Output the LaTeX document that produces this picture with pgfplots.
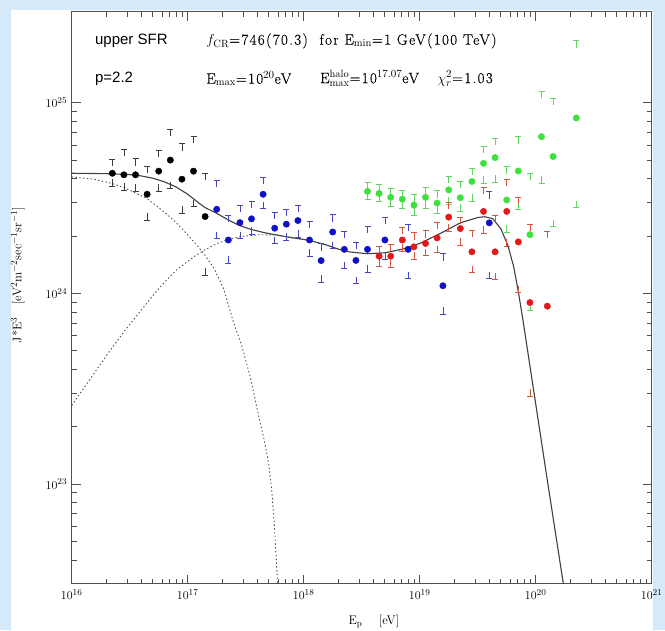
\documentclass[border=0pt]{standalone}
\usepackage{pgfplots}
\usepackage{pgfplotstable}
\pgfplotsset{compat=1.18}
\usepackage{fontspec}
\newfontfamily\helv{Liberation Sans}
\newfontfamily\smfont[LetterSpace=9,FakeBold=0.3]{Latin Modern Roman}
\definecolor{bgblue}{RGB}{212,234,250}
\definecolor{dblue}{RGB}{15,15,200}
\definecolor{dred}{RGB}{225,25,25}
\definecolor{dgreen}{RGB}{60,225,60}
\definecolor{cblack}{RGB}{60,60,60}
\definecolor{cblue}{RGB}{70,70,195}
\definecolor{cred}{RGB}{210,85,65}
\definecolor{cgreen}{RGB}{95,215,95}
\definecolor{framec}{RGB}{80,80,80}

\pgfdeclareplotmark{capup}{%
  \pgfpathmoveto{\pgfqpoint{-3pt}{0pt}}\pgfpathlineto{\pgfqpoint{3pt}{0pt}}%
  \pgfpathmoveto{\pgfqpoint{0pt}{0pt}}\pgfpathlineto{\pgfqpoint{0pt}{-7pt}}%
  \pgfusepathqstroke}
\pgfdeclareplotmark{capdn}{%
  \pgfpathmoveto{\pgfqpoint{-3pt}{0pt}}\pgfpathlineto{\pgfqpoint{3pt}{0pt}}%
  \pgfpathmoveto{\pgfqpoint{0pt}{0pt}}\pgfpathlineto{\pgfqpoint{0pt}{7pt}}%
  \pgfusepathqstroke}

% columns: log10(E), log10(J E^3), log10(upper), log10(lower)
\pgfplotstableread{
lx ly hi lo
16.35 24.630 24.704 24.562
16.45 24.622 24.755 24.541
16.55 24.622 24.706 24.536
16.65 24.520 24.667 24.384
16.75 24.641 24.751 24.536
16.85 24.699 24.862 24.550
16.95 24.599 24.786 24.419
17.05 24.641 24.825 24.454
17.15 24.403 24.629 24.095
}\tblack
\pgfplotstableread{
lx ly hi lo
17.25 24.441 24.594 24.287
17.35 24.280 24.410 24.159
17.45 24.371 24.462 24.287
17.55 24.391 24.485 24.310
17.65 24.520 24.608 24.445
17.75 24.342 24.427 24.261
17.85 24.363 24.440 24.278
17.95 24.382 24.462 24.296
18.05 24.280 24.380 24.196
18.15 24.172 24.261 24.060
18.25 24.322 24.413 24.235
18.35 24.231 24.326 24.130
18.45 24.173 24.270 24.051
18.55 24.231 24.352 24.112
18.70 24.280 24.401 24.177
18.90 24.231 24.363 24.077
19.20 24.040 24.209 23.890
19.60 24.370 24.533 24.077
}\tblue
\pgfplotstableread{
lx ly hi lo
18.55 24.535 24.583 24.492
18.65 24.524 24.573 24.482
18.75 24.504 24.549 24.457
18.85 24.494 24.539 24.447
18.95 24.463 24.518 24.411
19.05 24.504 24.555 24.447
19.15 24.474 24.539 24.420
19.25 24.543 24.614 24.467
19.35 24.502 24.589 24.430
19.45 24.587 24.656 24.485
19.55 24.682 24.773 24.577
19.65 24.712 24.813 24.582
19.75 24.490 24.664 24.320
19.85 24.642 24.822 24.440
19.95 24.308 24.629 23.910
20.05 24.822 25.061 24.577
20.15 24.718 25.023 24.350
20.35 24.920 25.325 24.450
}\tgreen
\pgfplotstableread{
lx ly hi lo
18.65 24.195 24.244 24.142
18.75 24.195 24.258 24.138
18.85 24.280 24.346 24.220
18.95 24.244 24.319 24.179
19.05 24.262 24.329 24.197
19.15 24.291 24.372 24.213
19.25 24.400 24.478 24.325
19.35 24.340 24.400 24.254
19.45 24.218 24.331 24.108
19.55 24.430 24.557 24.316
19.65 24.218 24.410 24.071
19.75 24.430 24.600 24.248
19.85 24.270 24.505 24.003
19.95 23.952 24.362 23.462
20.10 23.933 24.326 0
}\tred
\pgfplotstableread{
lx ly
16.00 24.630
16.30 24.628
16.50 24.623
16.60 24.616
16.70 24.604
16.80 24.585
16.90 24.558
17.00 24.520
17.10 24.472
17.15 24.450
17.25 24.420
17.35 24.385
17.45 24.355
17.55 24.335
17.65 24.320
17.75 24.308
17.90 24.292
18.00 24.283
18.10 24.270
18.20 24.253
18.30 24.232
18.40 24.217
18.55 24.208
18.70 24.213
18.85 24.232
19.00 24.262
19.18 24.315
19.35 24.370
19.50 24.398
19.56 24.402
19.63 24.392
19.70 24.338
19.76 24.252
19.81 24.140
19.85 24.010
19.89 23.860
19.99 23.460
20.10 23.020
20.24 22.470
}\ttotal
\pgfplotstableread{
lx ly
16.00 24.611
16.19 24.599
16.35 24.576
16.47 24.550
16.65 24.497
16.76 24.445
16.88 24.384
16.99 24.314
17.08 24.252
17.14 24.208
17.22 24.138
17.31 24.025
17.39 23.858
17.47 23.718
17.54 23.560
17.62 23.333
17.66 23.230
17.70 23.100
17.725 22.960
17.745 22.800
17.760 22.650
17.775 22.470
}\tgal
\pgfplotstableread{
lx ly
16.00 23.412
16.19 23.578
16.33 23.700
16.47 23.814
16.62 23.928
16.76 24.033
16.90 24.121
17.05 24.191
17.14 24.226
17.25 24.261
17.37 24.287
17.48 24.300
17.62 24.308
17.77 24.306
17.90 24.292
18.00 24.283
}\texg

\begin{document}
\begin{tikzpicture}
\fill[bgblue] (-71.7pt,-46.4pt) rectangle (593.3pt,583.8pt);
\fill[white] (-61pt,-46.4pt) rectangle (581pt,574pt);
\begin{axis}[
  scale only axis, width=580pt, height=572pt,
  xmode=log, ymode=log,
  xmin=1e16, xmax=1e21, ymin=3e22, ymax=3e25,
  tick align=inside,
  major tick length=9pt, minor tick length=5pt,
  axis line style={framec, line width=0.8pt},
  every tick/.style={framec, line width=0.7pt},
  tick label style={font=\fontsize{12.5}{13}\selectfont},
  xticklabel style={yshift=-2pt},
  yticklabel style={xshift=-1pt},
  xlabel={E$_{\rm p}$\quad\ [eV]},
  ylabel={J*E$^3$\quad [eV$^2$m$^{-2}$sec$^{-1}$sr$^{-1}$]},
  label style={font=\fontsize{12.5}{14}\selectfont},
  xlabel style={at={(axis description cs:0.521,-0.066)}, anchor=center},
  ylabel style={at={(axis description cs:-0.093,0.54)}, anchor=center, rotate=0},
  clip=true,
]
\addplot[no marks, color=black!75, line width=1.1pt] table[x expr={10^\thisrow{lx}}, y expr={10^\thisrow{ly}}] {\ttotal};
\addplot[no marks, color=black!70, line width=0.9pt, dash pattern=on 1.4pt off 2.4pt] table[x expr={10^\thisrow{lx}}, y expr={10^\thisrow{ly}}] {\tgal};
\addplot[no marks, color=black!70, line width=0.9pt, dash pattern=on 1.4pt off 2.4pt] table[x expr={10^\thisrow{lx}}, y expr={10^\thisrow{ly}}] {\texg};

\addplot[only marks, mark=capup, cblack, line width=0.8pt] table[x expr={10^\thisrow{lx}}, y expr={10^\thisrow{hi}}] {\tblack};
\addplot[only marks, mark=capdn, cblack, line width=0.8pt] table[x expr={10^\thisrow{lx}}, y expr={10^\thisrow{lo}}] {\tblack};
\addplot[only marks, mark=capup, cblue, line width=0.8pt] table[x expr={10^\thisrow{lx}}, y expr={10^\thisrow{hi}}] {\tblue};
\addplot[only marks, mark=capdn, cblue, line width=0.8pt] table[x expr={10^\thisrow{lx}}, y expr={10^\thisrow{lo}}] {\tblue};
\addplot[only marks, mark=capup, cgreen, line width=0.8pt] table[x expr={10^\thisrow{lx}}, y expr={10^\thisrow{hi}}] {\tgreen};
\addplot[only marks, mark=capdn, cgreen, line width=0.8pt] table[x expr={10^\thisrow{lx}}, y expr={10^\thisrow{lo}}] {\tgreen};
\addplot[only marks, mark=capup, cred, line width=0.8pt] table[x expr={10^\thisrow{lx}}, y expr={10^\thisrow{hi}}] {\tred};
\addplot[only marks, mark=capdn, cred, line width=0.8pt] table[x expr={10^\thisrow{lx}}, y expr={10^\thisrow{lo}}] {\tred};

\addplot[only marks, mark=*, mark size=3.2pt, black] table[x expr={10^\thisrow{lx}}, y expr={10^\thisrow{ly}}] {\tblack};
\addplot[only marks, mark=*, mark size=3.2pt, dblue] table[x expr={10^\thisrow{lx}}, y expr={10^\thisrow{ly}}] {\tblue};
\addplot[only marks, mark=*, mark size=3.2pt, dgreen] table[x expr={10^\thisrow{lx}}, y expr={10^\thisrow{ly}}] {\tgreen};
\addplot[only marks, mark=*, mark size=3.2pt, dred] table[x expr={10^\thisrow{lx}}, y expr={10^\thisrow{ly}}] {\tred};

\node[anchor=west, inner sep=0pt, font=\helv\fontsize{15}{17}\selectfont] at (rel axis cs:0.040,0.949) {upper SFR};
\node[anchor=west, inner sep=0pt, font=\helv\fontsize{15}{17}\selectfont] at (rel axis cs:0.040,0.883) {p=2.2};
\node[anchor=west, inner sep=0pt, font=\smfont\fontsize{15}{17}\selectfont] at (rel axis cs:0.232,0.949) {$f_{\rm CR}$=746(70.3)\ \ for E$_{\rm min}$=1 GeV(100 TeV)};
\node[anchor=west, inner sep=0pt, font=\smfont\fontsize{15}{17}\selectfont] at (rel axis cs:0.232,0.883) {E$_{\rm max}$=10$^{20}$eV};
\node[anchor=west, inner sep=0pt, font=\smfont\fontsize{15}{17}\selectfont] at (rel axis cs:0.428,0.883) {E$^{\rm halo}_{\rm max}$=10$^{17.07}$eV};
\node[anchor=west, inner sep=0pt, font=\smfont\fontsize{15}{17}\selectfont] at (rel axis cs:0.630,0.883) {$\chi^2_r$=1.03};
\end{axis}
\pgfresetboundingbox
\path[use as bounding box] (-71.7pt,-46.4pt) rectangle (593.3pt,583.8pt);
\end{tikzpicture}
\end{document}
